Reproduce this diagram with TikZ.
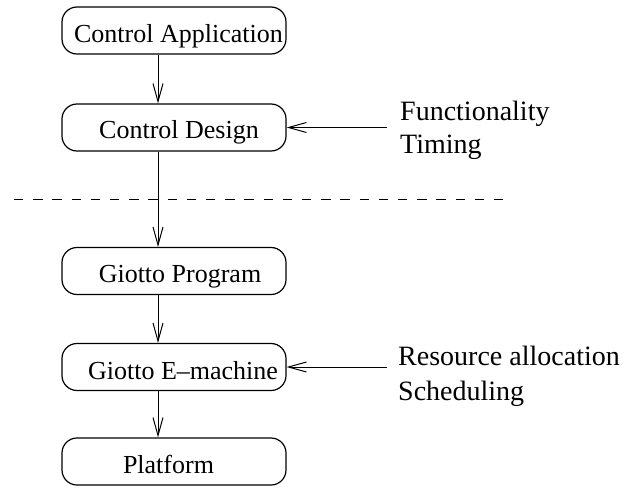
\documentclass[tikz,border=0pt]{standalone}
\usepackage{fontspec}
\setmainfont{Liberation Serif}
\usetikzlibrary{arrows.meta}
\begin{document}
\begin{tikzpicture}[x=1pt,y=-1pt,
  stage/.style={draw, line width=1.2pt, rounded corners=15pt,
    minimum width=224pt, minimum height=47pt, inner sep=0pt},
  stagetext/.style={anchor=base, inner sep=0pt,
    font=\fontsize{26}{30}\selectfont},
  note/.style={anchor=base west, inner sep=0pt,
    font=\fontsize{28}{34}\selectfont},
  flow/.style={line width=1pt, -{Straight Barb[length=18pt,width=10pt]}},
  divider/.style={line width=0.9pt, dash pattern=on 9.3pt off 9.9pt}]
\useasboundingbox (0,0) rectangle (628,487);

% stages of the design flow
\node[stage] (ca) at (174,30.5) {};
\node[stagetext] (ca-t) at (178.5,42) {Control Application};
\node[stage] (cd) at (174,127.5) {};
\node[stagetext] (cd-t) at (179,138) {Control Design};
\node[stage] (gp) at (174,271) {};
\node[stagetext] (gp-t) at (180,282) {Giotto Program};
\node[stage] (ge) at (174,367) {};
\node[stagetext] (ge-t) at (183,379) {Giotto E–machine};
\node[stage] (pf) at (174,461.5) {};
\node[stagetext] (pf-t) at (168.5,473) {Platform};

% vertical axis of the flow arrows
\coordinate (axis) at (158,0);
\draw[flow] (ca.south -| axis) -- (cd.north -| axis);
\draw[flow] (cd.south -| axis) -- (gp.north -| axis);
\draw[flow] (gp.south -| axis) -- (ge.north -| axis);
\draw[flow] (ge.south -| axis) -- (pf.north -| axis);

% separation between design level and implementation level
\coordinate (div-l) at (14,199);
\coordinate (div-r) at (504,199);
\draw[divider] (div-l) -- (div-r);

% external inputs
\coordinate (in-cd) at (387,127.5);
\draw[flow] (in-cd) -- (cd.east);
\node[note] (fun) at (400,120) {Functionality};
\node[note] (tim) at (400,153) {Timing};

\coordinate (in-ge) at (387,367);
\draw[flow] (in-ge) -- (ge.east);
\node[note] (res) at (398,365) {Resource allocation};
\node[note] (sch) at (398,400) {Scheduling};
\end{tikzpicture}
\end{document}
